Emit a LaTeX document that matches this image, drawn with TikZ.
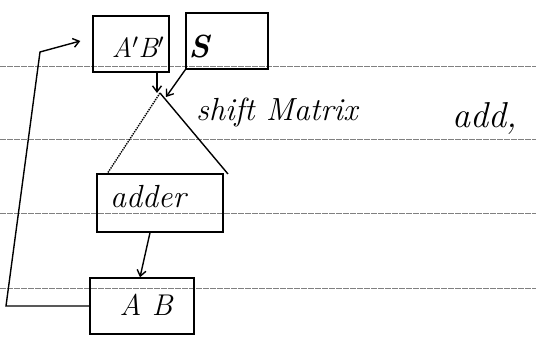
\documentclass[tikz,border=0pt]{standalone}
\usetikzlibrary{arrows.meta}
\begin{document}
\begin{tikzpicture}[x=1pt,y=-1pt,
  ink/.style={line width=1.4pt,black},
  rule/.style={gray,line width=0.6pt,dash pattern=on 6pt off 1pt},
  hbox/.style={ink,draw,rectangle,inner sep=0pt},
  hand/.style={inner sep=0pt,font=\itshape\fontsize{32}{34}\selectfont},
  arr/.style={ink,-{Straight Barb[length=6pt,width=9pt]}}]
\useasboundingbox (0,0) rectangle (536,339);
\fill[white] (0,0) rectangle (536,339);
% ruled paper lines
\foreach \yy in {66,139,213,288} \draw[rule] (0,\yy) -- (536,\yy);
% boxes
\node[hbox,minimum width=76pt,minimum height=56pt] (abp) at (131,44) {};
\node[hand,font=\itshape\fontsize{28}{30}\selectfont] (abptxt) at (138,47) {A$'$B$'$};
\node[hbox,minimum width=82pt,minimum height=56pt] (s) at (227,41) {};
\node[hand,font=\bfseries\itshape\fontsize{32}{34}\selectfont] (stxt) at (199,47) {S};
\node[hbox,minimum width=126pt,minimum height=58pt] (adder) at (160,203) {};
\node[hand] (addertxt) at (148,197) {adder};
\node[hbox,minimum width=104pt,minimum height=56pt] (ab) at (142,306) {};
\node[hand,font=\itshape\fontsize{30}{32}\selectfont] (abtxt) at (146,305) {A B};
% shift-matrix triangle
\coordinate (apex) at (160,93);
\coordinate (tl) at (107,174);
\coordinate (tr) at (228,174);
\draw[ink,densely dotted] (apex) -- (tl);
\draw[ink] (apex) -- (tr);
% labels
\node[hand,anchor=west] (shift) at (196,113) {shift Matrix};
\node[hand,anchor=west,font=\itshape\fontsize{36}{38}\selectfont] (add) at (452,118) {add,};
% arrows
\draw[arr] ([xshift=26pt]abp.south) -- ([xshift=-3pt]apex);
\draw[arr] (s.south west) -- ([xshift=6pt,yshift=-4pt]apex);
\draw[arr] ([xshift=-10pt]adder.south) -- ([xshift=-2pt]ab.north);
% feedback loop
\coordinate (fb1) at (6,306);
\coordinate (fb2) at (40,52);
\draw[arr] (ab.west) -- (fb1) -- (fb2) -- ([xshift=-12pt,yshift=3pt]abp.west);
\end{tikzpicture}
\end{document}
